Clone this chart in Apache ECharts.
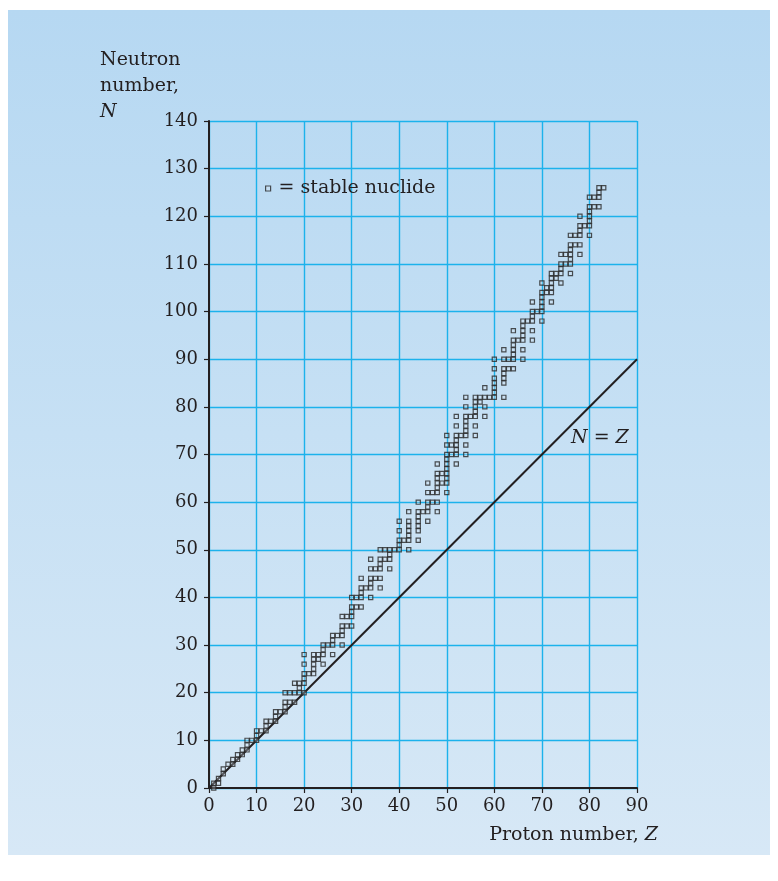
<!DOCTYPE html>
<html>
<head>
<meta charset="utf-8">
<script src="https://cdn.jsdelivr.net/npm/echarts@6/dist/echarts.min.js"></script>
<style>
  html, body { margin: 0; padding: 0; background: #ffffff; }
  #wrap { position: relative; width: 778px; height: 881px; background: #ffffff; }
  #panel { position: absolute; left: 8px; top: 10px; width: 762px; height: 845px;
           background: linear-gradient(to bottom, #b6d8f2 0%, #c6e0f4 50%, #d7e8f6 100%); }
  #chart { position: absolute; left: 0; top: 0; width: 778px; height: 881px; }
</style>
</head>
<body>
<div id="wrap"><div id="panel"></div><div id="chart"></div></div>
<script>
// Stable nuclides: index = proton number Z, entries = neutron numbers N
const neutronsByZ = [
  [],
  [0, 1],
  [1, 2],
  [3, 4],
  [5],
  [5, 6],
  [6, 7],
  [7, 8],
  [8, 9, 10],
  [10],
  [10, 11, 12],
  [12],
  [12, 13, 14],
  [14],
  [14, 15, 16],
  [16],
  [16, 17, 18, 20],
  [18, 20],
  [18, 20, 22],
  [20, 21, 22],
  [20, 22, 23, 24, 26, 28],
  [24],
  [24, 25, 26, 27, 28],
  [27, 28],
  [26, 28, 29, 30],
  [30],
  [28, 30, 31, 32],
  [32],
  [30, 32, 33, 34, 36],
  [34, 36],
  [34, 36, 37, 38, 40],
  [38, 40],
  [38, 40, 41, 42, 44],
  [42],
  [40, 42, 43, 44, 46, 48],
  [44, 46],
  [42, 44, 46, 47, 48, 50],
  [48, 50],
  [46, 48, 49, 50],
  [50],
  [50, 51, 52, 54, 56],
  [52],
  [50, 52, 53, 54, 55, 56, 58],
  [],
  [52, 54, 55, 56, 57, 58, 60],
  [58],
  [56, 58, 59, 60, 62, 64],
  [60, 62],
  [58, 60, 62, 63, 64, 65, 66, 68],
  [64, 66],
  [62, 64, 65, 66, 67, 68, 69, 70, 72, 74],
  [70, 72],
  [68, 70, 71, 72, 73, 74, 76, 78],
  [74],
  [70, 72, 74, 75, 76, 77, 78, 80, 82],
  [78],
  [74, 76, 78, 79, 80, 81, 82],
  [81, 82],
  [78, 80, 82, 84],
  [82],
  [82, 83, 84, 85, 86, 88, 90],
  [],
  [82, 85, 86, 87, 88, 90, 92],
  [88, 90],
  [88, 90, 91, 92, 93, 94, 96],
  [94],
  [90, 92, 94, 95, 96, 97, 98],
  [98],
  [94, 96, 98, 99, 100, 102],
  [100],
  [98, 100, 101, 102, 103, 104, 106],
  [104, 105],
  [102, 104, 105, 106, 107, 108],
  [107, 108],
  [106, 108, 109, 110, 112],
  [110, 112],
  [108, 110, 111, 112, 113, 114, 116],
  [114, 116],
  [112, 114, 116, 117, 118, 120],
  [118],
  [116, 118, 119, 120, 121, 122, 124],
  [122, 124],
  [122, 124, 125, 126],
  [126]
];
const lineNZ = [[0, 0], [90, 90]];
const xTicks = [0, 10, 20, 30, 40, 50, 60, 70, 80, 90];
const yTicks = [0, 10, 20, 30, 40, 50, 60, 70, 80, 90, 100, 110, 120, 130, 140];

const points = [];
neutronsByZ.forEach((ns, z) => ns.forEach(n => points.push([z, n])));

const FONT = 'DejaVu Serif';
const INK = '#231f20';
const GRID = '#1cb2ec';
const MARK = { color: 'rgba(220,230,240,0.35)', borderColor: '#262626', borderWidth: 1.2 };

const chart = echarts.init(document.getElementById('chart'), null, { renderer: 'canvas' });
chart.setOption({
  backgroundColor: 'transparent',
  animation: false,
  grid: { left: 209, right: 141, top: 121, bottom: 93 },
  xAxis: {
    type: 'value', min: xTicks[0], max: xTicks[xTicks.length - 1], interval: 10,
    axisLine: { show: true, onZero: false, lineStyle: { color: INK, width: 2 } },
    axisTick: { show: true, length: 5, lineStyle: { color: INK, width: 1.2 } },
    axisLabel: { fontFamily: FONT, fontSize: 18, color: INK, margin: 9 },
    splitLine: { show: true, lineStyle: { color: GRID, width: 1.4 } }
  },
  yAxis: {
    type: 'value', min: yTicks[0], max: yTicks[yTicks.length - 1], interval: 10,
    axisLine: { show: true, onZero: false, lineStyle: { color: INK, width: 2 } },
    axisTick: { show: true, length: 5, lineStyle: { color: INK, width: 1.2 } },
    axisLabel: { fontFamily: FONT, fontSize: 18, color: INK, margin: 11 },
    splitLine: { show: true, lineStyle: { color: GRID, width: 1.4 } }
  },
  legend: {
    left: 265, top: 179, data: ['= stable nuclide'], icon: 'rect',
    itemWidth: 5, itemHeight: 5, padding: 0,
    itemStyle: MARK,
    textStyle: { fontFamily: FONT, fontSize: 19, color: INK, padding: [0, 0, 0, 3] }
  },
  graphic: [
    {
      type: 'text', left: 100, top: 47,
      style: {
        text: 'Neutron\nnumber,\n{i|N}', fontFamily: FONT, fontSize: 19, fill: INK,
        lineHeight: 26, rich: { i: { fontStyle: 'italic', fontFamily: FONT, fontSize: 19, fill: INK, lineHeight: 26 } }
      }
    },
    {
      type: 'text', right: 120, top: 826,
      style: {
        text: 'Proton number, {i|Z}', fontFamily: FONT, fontSize: 19, fill: INK,
        rich: { i: { fontStyle: 'italic', fontFamily: FONT, fontSize: 19, fill: INK } }
      }
    },
    {
      type: 'text', left: 571, top: 429,
      style: {
        text: '{i|N} = {i|Z}', fontFamily: FONT, fontSize: 19, fill: INK,
        rich: { i: { fontStyle: 'italic', fontFamily: FONT, fontSize: 19, fill: INK } }
      }
    }
  ],
  series: [
    {
      type: 'line', data: lineNZ, showSymbol: false, silent: true,
      lineStyle: { color: INK, width: 2 }, z: 3
    },
    {
      name: '= stable nuclide', type: 'scatter', data: points, symbol: 'rect', symbolSize: 4.2,
      itemStyle: MARK, z: 4
    }
  ]
});
</script>
</body>
</html>
